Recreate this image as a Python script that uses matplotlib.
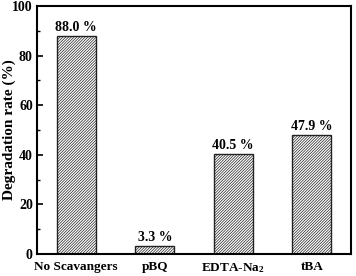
import numpy as np
import matplotlib
matplotlib.use('Agg')
import matplotlib.pyplot as plt

categories = ['No Scavangers', 'pBQ', 'EDTA-Na$_2$', 'tBA']
values = [88.0, 3.3, 40.5, 47.9]
labels = ['88.0 %', '3.3 %', '40.5 %', '47.9 %']

plt.rcParams['font.family'] = 'Liberation Serif'
plt.rcParams['font.weight'] = 'bold'
plt.rcParams['mathtext.fontset'] = 'custom'
plt.rcParams['mathtext.rm'] = 'Liberation Serif:bold'
plt.rcParams['mathtext.it'] = 'Liberation Serif:bold'
plt.rcParams['hatch.linewidth'] = 0.5
plt.rcParams['hatch.color'] = '#333333'

fig = plt.figure(figsize=(3.56, 2.76), dpi=100)
ax = fig.add_axes([37 / 356, 22 / 276, 314 / 356, 248 / 276])

x = np.arange(len(categories))
ax.bar(x, values, width=0.5, color='white', edgecolor='#222222',
       hatch='////////////', linewidth=1.0)
for xi, v, lab in zip(x, values, labels):
    ax.text(xi, v + 0.8, lab, ha='center', va='bottom', fontsize=10, fontweight='bold')

ax.set_xlim(-0.5, 3.5)
ax.set_ylim(0, 100)
ax.set_xticks(x)
ax.set_xticklabels(categories, fontsize=9.5, fontweight='bold')
ax.set_yticks([0, 20, 40, 60, 80, 100])
ax.set_yticks([10, 30, 50, 70, 90], minor=True)
ax.tick_params(axis='y', direction='in', length=4, width=1.2, labelsize=10, pad=3)
ax.tick_params(axis='y', which='minor', direction='in', length=2, width=1.0)
ax.tick_params(axis='x', length=0, pad=5)
ax.set_ylabel('Degradation rate (%)', fontsize=11, fontweight='bold')
ax.yaxis.set_label_coords(-0.068, 0.5)
for s in ax.spines.values():
    s.set_linewidth(1.5)

fig.savefig('out.png', dpi=100)
